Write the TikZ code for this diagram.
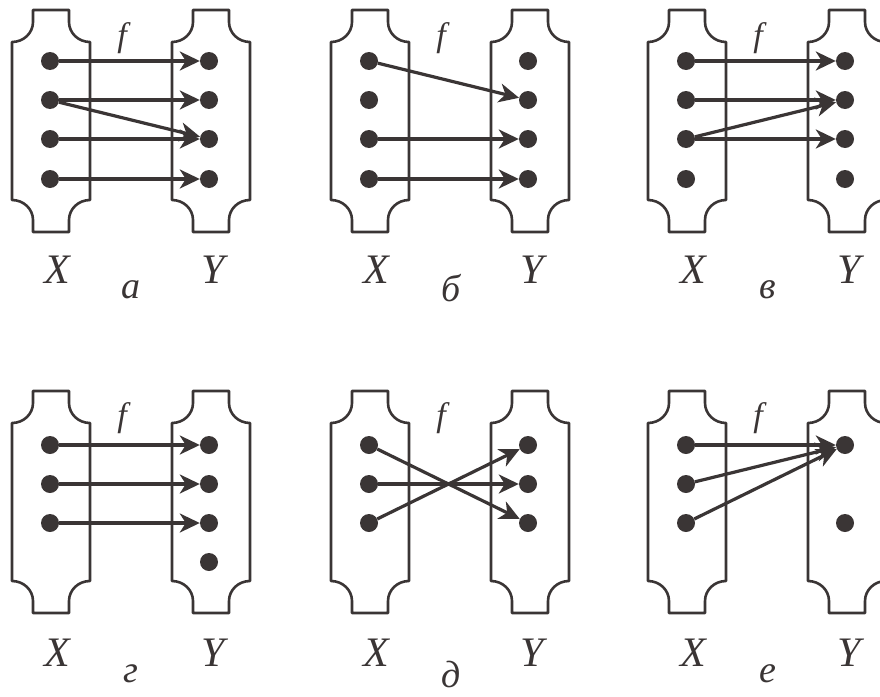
\documentclass[tikz,border=0pt]{standalone}
\usepackage{fontspec}
\setmainfont{Liberation Serif}[ItalicFont={Liberation Serif Italic}]
\usetikzlibrary{arrows.meta}
\definecolor{ink}{HTML}{3A3535}
\tikzset{
  setline/.style={draw=ink, line width=2.6pt, line join=round},
  dot/.style={circle, fill=ink, inner sep=0pt, minimum size=18pt},
  arr/.style={draw=ink, line width=3.2pt, -{Stealth[length=20pt,width=19pt,inset=6pt]}},
  lab/.style={text=ink, font=\fontsize{42}{46}\selectfont\itshape},
  flab/.style={text=ink, font=\fontsize{34}{38}\selectfont\itshape},
  plab/.style={text=ink, font=\fontsize{38}{42}\selectfont\itshape},
}
\newcommand\SetShape[2]{%
  \draw[setline,shift={(#1,#2)}] (21,0) -- (57,0) -- (57,12)
    .. controls (57,23) and (66.4,32) .. (78,32) -- (78,190)
    .. controls (66.4,190) and (57,199) .. (57,210) -- (57,222) -- (21,222) -- (21,210)
    .. controls (21,199) and (11.6,190) .. (0,190) -- (0,32)
    .. controls (11.6,32) and (21,23) .. (21,12) -- cycle;}
\begin{document}
\begin{tikzpicture}[x=1pt,y=-1pt]
\useasboundingbox (0,0) rectangle (880,696);
% ---------- boxes ----------
\SetShape{12}{10}\SetShape{172}{10}
\SetShape{331}{10}\SetShape{491}{10}
\SetShape{648}{10}\SetShape{808}{10}
\SetShape{12}{391}\SetShape{172}{391}
\SetShape{331}{391}\SetShape{491}{391}
\SetShape{648}{391}\SetShape{808}{391}
% ---------- panel a ----------
\node[dot] (ax1) at (50,61) {};  \node[dot] (ay1) at (209,61) {};
\node[dot] (ax2) at (50,100) {}; \node[dot] (ay2) at (209,100) {};
\node[dot] (ax3) at (50,139) {}; \node[dot] (ay3) at (209,139) {};
\node[dot] (ax4) at (50,179) {}; \node[dot] (ay4) at (209,179) {};
\draw[arr] (ax1) -- (ay1);
\draw[arr] (ax2) -- (ay2);
\draw[arr] (ax2) -- (ay3);
\draw[arr] (ax3) -- (ay3);
\draw[arr] (ax4) -- (ay4);
\node[flab] (af) at (122,38) {f};
\node[lab] (aX) at (57,270) {X};
\node[lab] (aY) at (213,270) {Y};
\node[plab] (an) at (131,290) {а};
% ---------- panel b ----------
\node[dot] (bx1) at (369,61) {};  \node[dot] (by1) at (528,61) {};
\node[dot] (bx2) at (369,100) {}; \node[dot] (by2) at (528,100) {};
\node[dot] (bx3) at (369,139) {}; \node[dot] (by3) at (528,139) {};
\node[dot] (bx4) at (369,179) {}; \node[dot] (by4) at (528,179) {};
\draw[arr] (bx1) -- (by2);
\draw[arr] (bx3) -- (by3);
\draw[arr] (bx4) -- (by4);
\node[flab] (bf) at (441,38) {f};
\node[lab] (bX) at (376,270) {X};
\node[lab] (bY) at (532,270) {Y};
\node[plab] (bn) at (451,288) {б};
% ---------- panel v ----------
\node[dot] (vx1) at (686,61) {};  \node[dot] (vy1) at (845,61) {};
\node[dot] (vx2) at (686,100) {}; \node[dot] (vy2) at (845,100) {};
\node[dot] (vx3) at (686,139) {}; \node[dot] (vy3) at (845,139) {};
\node[dot] (vx4) at (686,179) {}; \node[dot] (vy4) at (845,179) {};
\draw[arr] (vx1) -- (vy1);
\draw[arr] (vx2) -- (vy2);
\draw[arr] (vx3) -- (vy2);
\draw[arr] (vx3) -- (vy3);
\node[flab] (vf) at (758,38) {f};
\node[lab] (vX) at (693,270) {X};
\node[lab] (vY) at (849,270) {Y};
\node[plab] (vn) at (768,290) {в};
% ---------- panel g ----------
\node[dot] (gx1) at (50,445) {}; \node[dot] (gy1) at (209,445) {};
\node[dot] (gx2) at (50,484) {}; \node[dot] (gy2) at (209,484) {};
\node[dot] (gx3) at (50,523) {}; \node[dot] (gy3) at (209,523) {};
\node[dot] (gy4) at (209,562) {};
\draw[arr] (gx1) -- (gy1);
\draw[arr] (gx2) -- (gy2);
\draw[arr] (gx3) -- (gy3);
\node[flab] (gf) at (122,418) {f};
\node[lab] (gX) at (57,653) {X};
\node[lab] (gY) at (213,653) {Y};
\node[plab] (gn) at (131,674) {г};
% ---------- panel d ----------
\node[dot] (dx1) at (369,445) {}; \node[dot] (dy1) at (528,445) {};
\node[dot] (dx2) at (369,484) {}; \node[dot] (dy2) at (528,484) {};
\node[dot] (dx3) at (369,523) {}; \node[dot] (dy3) at (528,523) {};
\draw[arr] (dx1) -- (dy3);
\draw[arr] (dx2) -- (dy2);
\draw[arr] (dx3) -- (dy1);
\node[flab] (df) at (441,418) {f};
\node[lab] (dX) at (376,653) {X};
\node[lab] (dY) at (532,653) {Y};
\node[plab] (dn) at (451,674) {д};
% ---------- panel e ----------
\node[dot] (ex1) at (686,445) {}; \node[dot] (ey1) at (845,445) {};
\node[dot] (ex2) at (686,484) {};
\node[dot] (ex3) at (686,523) {}; \node[dot] (ey2) at (845,523) {};
\draw[arr] (ex1) -- (ey1);
\draw[arr] (ex2) -- (ey1);
\draw[arr] (ex3) -- (ey1);
\node[flab] (ef) at (758,418) {f};
\node[lab] (eX) at (693,653) {X};
\node[lab] (eY) at (849,653) {Y};
\node[plab] (en) at (768,674) {е};
\end{tikzpicture}
\end{document}
